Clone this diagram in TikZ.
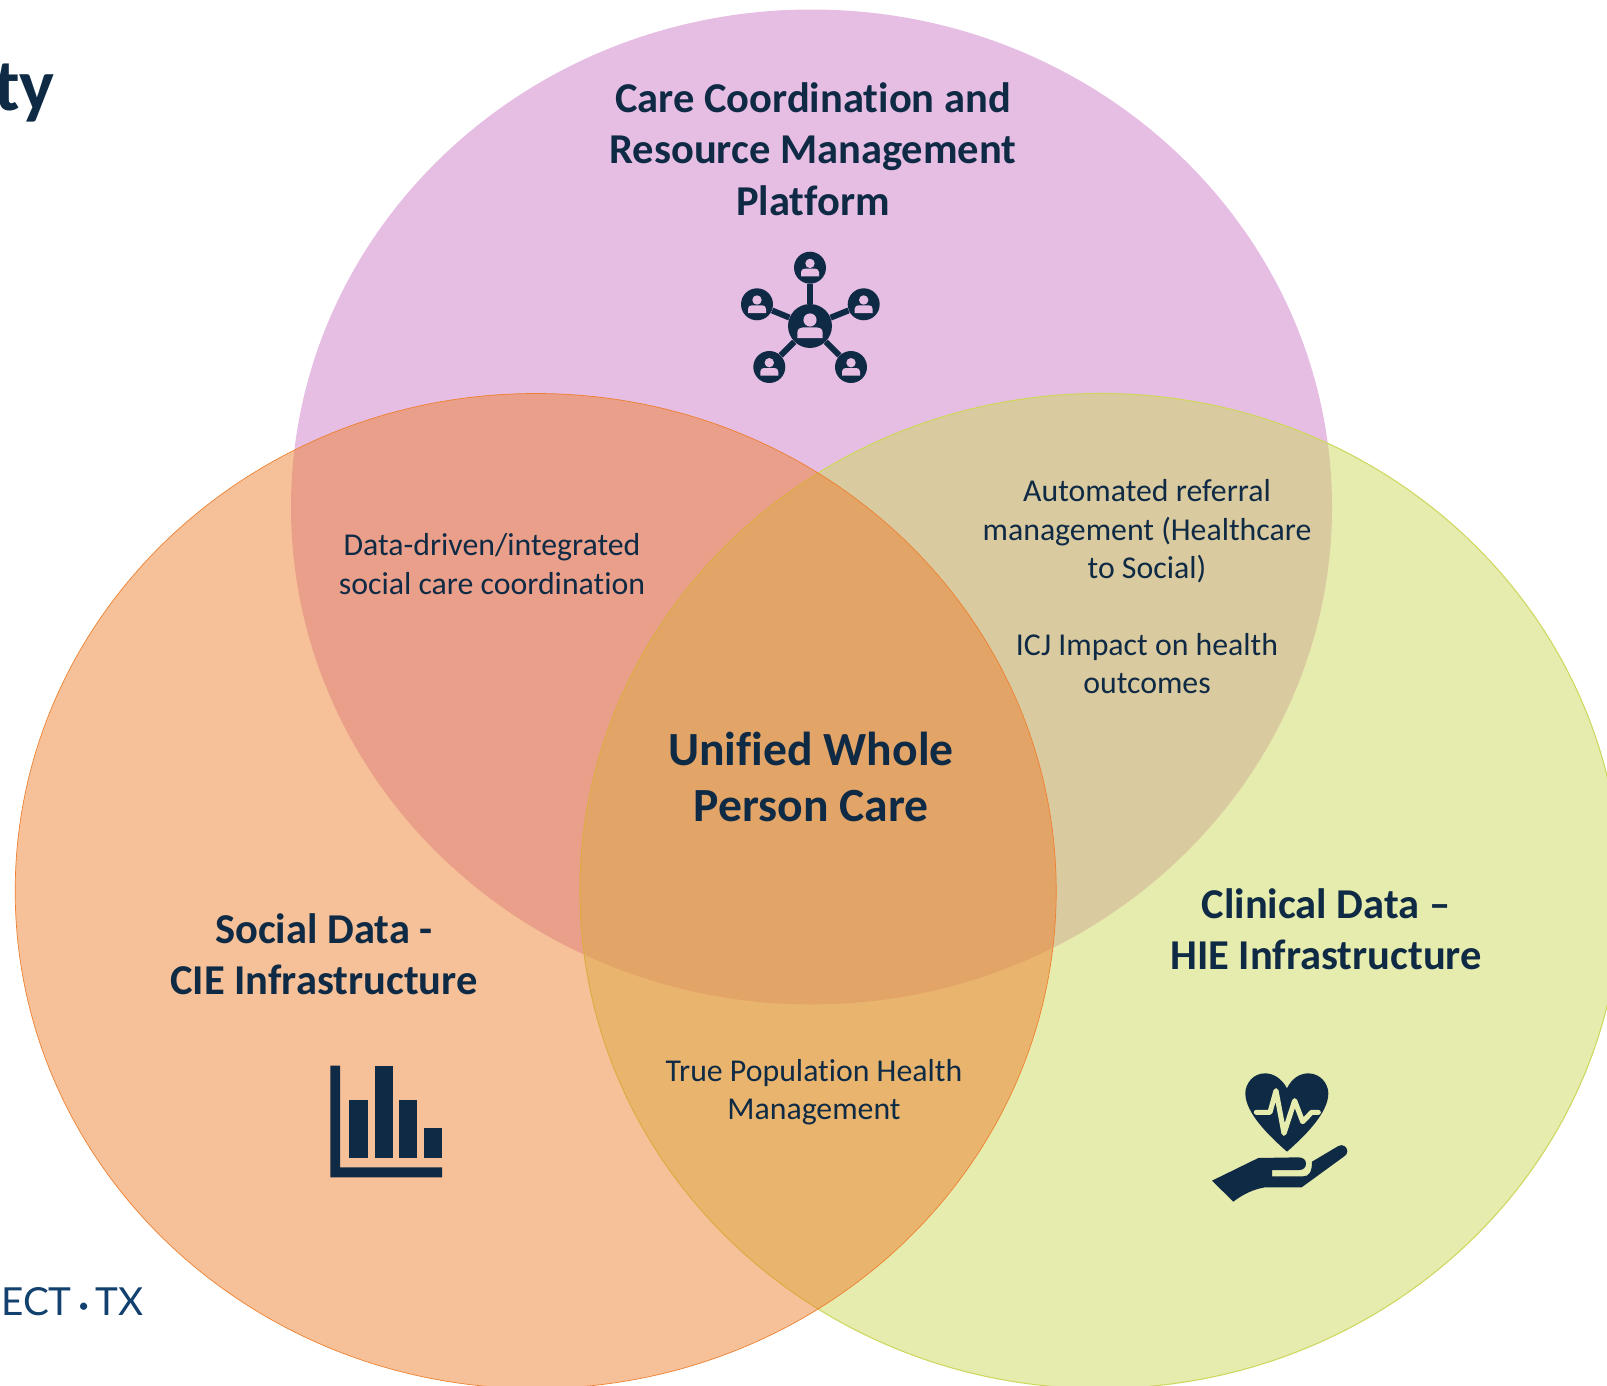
\documentclass[tikz,border=0pt]{standalone}
\usepackage{fontspec}
\setmainfont[Ligatures=NoCommon]{Carlito}
\newfontfamily\logofont{Lato}
\definecolor{navy}{HTML}{0F2A44}
\definecolor{logoblue}{HTML}{12406F}
\definecolor{vennpurple}{HTML}{CD7BC7}
\definecolor{vennorange}{HTML}{ED8131}
\definecolor{venngreen}{HTML}{CDD75D}
\definecolor{palepurple}{HTML}{E6BDE3}
\definecolor{palegreen}{HTML}{E6EBAE}
\tikzset{
  heading/.style={text=navy,align=center,font=\fontsize{24.2}{29.2}\selectfont\bfseries},
  bigheading/.style={text=navy,align=center,font=\fontsize{27.1}{32.4}\selectfont\bfseries},
  remark/.style={text=navy,align=center,font=\fontsize{18.1}{21.85}\selectfont},
  hub/.style={circle,fill=navy,minimum size=25pt},
  sat/.style={circle,fill=navy,minimum size=18.2pt},
  spoke/.style={navy,line width=3.4pt},
  person/.pic={
    \fill[palepurple] (0,-4.3) circle (4.7);
    \fill[palepurple] (-9,8.7) -- (-9,4.5) .. controls (-9,2) and (-7,1) .. (-5,1) -- (5,1) .. controls (7,1) and (9,2) .. (9,4.5) -- (9,8.7) -- cycle;
  }
}
\begin{document}
\begin{tikzpicture}[x=.02cm,y=-.02cm]
\tikzstyle{every node}+=[inner sep=0pt]
\useasboundingbox (0,0) rectangle (1607,1386);
\clip (0,0) rectangle (1607,1386);
\fill [vennpurple,fill opacity=.5] (811.5,507) circle [x radius=520.5,y radius=497.5];
\draw [venngreen,fill=venngreen,fill opacity=.5,line width=.6pt] (1100.5,891) circle [x radius=520.5,y radius=497.5];
\draw [vennorange,fill=vennorange,fill opacity=.5,line width=.4pt] (535.7,891) circle [x radius=520.5,y radius=497.5];
\node [text=navy,anchor=base east,font=\fontsize{42}{46}\selectfont\bfseries] (title) at (55,110) {ty};
\node [text=logoblue,anchor=base east,font=\logofont\fontsize{22}{24}\selectfont] (logo) at (144,1315) {ECT\,\raisebox{1.5pt}{\fontsize{11}{12}\selectfont•}\,TX};
\node [heading] (care) at (813,149) {Care Coordination and\\Resource Management\\Platform};
\node [heading] (social) at (324,954.5) {Social Data -\\CIE Infrastructure};
\node [heading] (clinical) at (1326,929.5) {Clinical Data –\\HIE Infrastructure};
\node [bigheading] (unified) at (811,777) {Unified Whole\\Person Care};
\node [remark] (driven) at (492,564) {Data-driven/integrated\\social care coordination};
\node [remark] (referral) at (1147,587) {Automated referral\\management (Healthcare\\to Social)\\[21.85pt]ICJ Impact on health\\outcomes};
\node [remark] (health) at (814,1092) {True Population Health\\Management};
\node [hub] (hub) at (810,326) {};
\node [sat] (sat1) at (810,267.7) {};
\node [sat] (sat2) at (757,304.3) {};
\node [sat] (sat3) at (863.7,304.3) {};
\node [sat] (sat4) at (769.3,367) {};
\node [sat] (sat5) at (851,367) {};
\foreach \s in {sat1,sat2,sat3,sat4,sat5} {
  \draw [spoke] (hub) -- (\s);
  \pic at (\s) {person};
}
\pic [scale=1.4] at (hub) {person};
\fill [navy] (330.3,1065.7) -- (340,1065.7) -- (340,1167.3) -- (442,1167.3) -- (442,1177.3) -- (330.3,1177.3) -- cycle;
\fill [navy] (349,1100) rectangle (368,1157.7);
\fill [navy] (374.7,1065.7) rectangle (392.7,1157.7);
\fill [navy] (399.3,1100) rectangle (417.3,1157.7);
\fill [navy] (424,1128) rectangle (442,1157.7);
\begin{scope}[shift={(1190,1050)},scale=1/3]
\fill [navy] (291,115) .. controls (275,85) and (250,70) .. (225,70) .. controls (190,70) and (166,100) .. (166,130) .. controls (166,190) and (240,260) .. (291,305) .. controls (342,260) and (415,190) .. (415,130) .. controls (415,100) and (390,70) .. (355,70) .. controls (330,70) and (305,85) .. (291,115) -- cycle;
\draw [palegreen,line width=2.9pt,line join=round,line cap=round] (199,187) -- (240,187) -- (258,122) -- (282,250) -- (314,152) -- (338,215) -- (365,187) -- (385,187);
\fill [navy] (66,392) -- (205,324) -- (325,322) .. controls (340,322) and (348,330) .. (348,341) .. controls (348,352) and (340,360) .. (328,360) -- (246,360) -- (246,379) -- (340,379) .. controls (358,379) and (366,365) .. (366,335) -- (445,288) .. controls (458,280) and (472,292) .. (472,303) .. controls (472,312) and (468,316) .. (460,321) -- (335,412) -- (225,412) .. controls (190,418) and (160,432) .. (130,455) -- cycle;
\end{scope}
\end{tikzpicture}
\end{document}
